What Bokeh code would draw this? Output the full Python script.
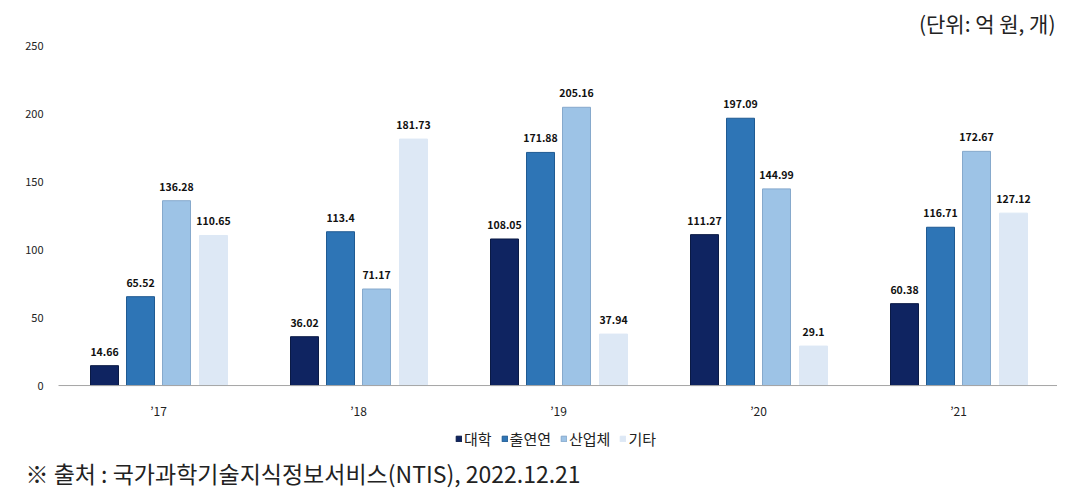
from bokeh.plotting import figure
from bokeh.models import ColumnDataSource, Legend, LegendItem, LabelSet, Label, Range1d
from bokeh.core.properties import value
from bokeh.embed import file_html
from bokeh.resources import INLINE

years = ["’17", "’18", "’19", "’20", "’21"]
series = ["대학", "출연연", "산업체", "기타"]
univ = [14.66, 36.02, 108.05, 111.27, 60.38]
inst = [65.52, 113.4, 171.88, 197.09, 116.71]
corp = [136.28, 71.17, 205.16, 144.99, 172.67]
etc = [110.65, 181.73, 37.94, 29.1, 127.12]
y_ticks = [0, 50, 100, 150, 200, 250]
unit_text = "(단위: 억 원, 개)"
source_text = "※ 출처 : 국가과학기술지식정보서비스(NTIS),  2022.12.21"

colors = ["#0f2461", "#2e75b6", "#9dc3e6", "#dde8f5"]
line_colors = ["#0a1a45", "#1f5a92", "#86a9cc", "#dde8f5"]
offsets = [-0.27, -0.09, 0.09, 0.275]
KR = "Noto Sans CJK KR"

xs = list(range(len(years)))
W, H = 1057, 493
p = figure(width=W, height=H, x_range=Range1d(-0.79, 4.495), y_range=Range1d(-79.6, 283.9),
           output_backend="svg", toolbar_location=None,
           min_border_left=0, min_border_right=0, min_border_top=0, min_border_bottom=0)
p.outline_line_color = None
p.grid.grid_line_color = None
p.background_fill_color = "white"

items = []
for i, (name, vals) in enumerate(zip(series, [univ, inst, corp, etc])):
    src = ColumnDataSource(dict(x=[x + offsets[i] for x in xs], top=vals,
                                t=[str(v) for v in vals]))
    r = p.vbar(x="x", top="top", width=0.14, source=src,
               fill_color=colors[i], line_color=line_colors[i], line_width=1)
    items.append(LegendItem(label=name, renderers=[r]))
    p.add_layout(LabelSet(x="x", y="top", text="t", source=src, text_align="center",
                          y_offset=10, text_font=value(KR), text_font_size="10.5px",
                          text_font_style="bold", text_color="#111111"))

# category axis baseline
p.line(x=[-0.5, len(years) - 0.5], y=[0, 0], line_color="#a6a6a6", line_width=1)

p.yaxis.fixed_location = -0.5
p.yaxis.ticker = y_ticks
p.yaxis.axis_line_color = None
p.yaxis.major_tick_line_color = None
p.yaxis.minor_tick_line_color = None
p.yaxis.major_label_text_font = KR
p.yaxis.major_label_text_font_size = "11px"
p.yaxis.major_label_text_color = "#222222"
p.yaxis.major_label_standoff = 9

p.xaxis.fixed_location = 0
p.xaxis.ticker = xs
p.xaxis.major_label_overrides = {i: y for i, y in enumerate(years)}
p.xaxis.axis_line_color = None
p.xaxis.major_tick_line_color = None
p.xaxis.minor_tick_line_color = None
p.xaxis.major_label_text_font = KR
p.xaxis.major_label_text_font_size = "12px"
p.xaxis.major_label_text_color = "#222222"
p.xaxis.major_label_standoff = 10

p.add_layout(Label(x=1055, y=H - 22, x_units="screen", y_units="screen", text=unit_text,
                   text_align="right", text_baseline="middle", text_font=KR,
                   text_font_size="21px", text_color="#222222"))
p.add_layout(Label(x=25, y=H - 472, x_units="screen", y_units="screen", text=source_text,
                   text_align="left", text_baseline="middle", text_font=KR,
                   text_font_size="23px", text_color="#222222"))

legend = Legend(items=items, orientation="horizontal", location=(455, H - 449),
                glyph_width=7, glyph_height=7, label_text_font=KR,
                label_text_font_size="15px", label_text_color="#222222",
                label_height=16, spacing=9, label_standoff=2, padding=0, margin=0,
                border_line_color=None, background_fill_alpha=0)
p.add_layout(legend, "center")

open("out.html", "w").write(file_html(p, INLINE))
